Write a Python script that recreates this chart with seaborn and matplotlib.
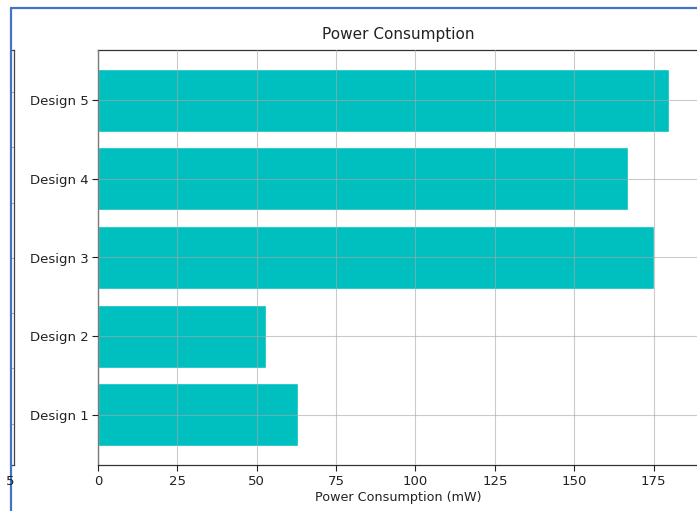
import matplotlib
matplotlib.use("Agg")
import matplotlib.pyplot as plt
import seaborn as sns
import pandas as pd
from matplotlib.lines import Line2D

# values
designs = ["Design 1", "Design 2", "Design 3", "Design 4", "Design 5"]
power_mw = [63, 53, 175, 167, 180]
x_ticks = [0, 25, 50, 75, 100, 125, 150, 175]

df = pd.DataFrame({"Design": designs, "Power": power_mw})

sns.set_style("ticks")
plt.rcParams["font.family"] = ["DejaVu Sans"]

W, H = 697, 511
fig = plt.figure(figsize=(W / 100, H / 100), dpi=100)

# main chart (the screenshot cuts it off on the right)
ax = fig.add_axes([98 / W, 46 / H, 600 / W, 415 / H])
sns.barplot(data=df, y="Design", x="Power", order=designs[::-1], orient="h",
            color="#00bfbf", saturation=1, width=0.8, ax=ax)
ax.set_xlim(0, 189)
ax.set_ylim(4.64, -0.64)
ax.set_xticks(x_ticks)
# grid sits on top of the bars, a bit see-through
ax.set_axisbelow(False)
ax.grid(True, color="#a8a8a8", linewidth=0.8, alpha=0.6)
ax.set_title("Power Consumption", fontsize=11, color="#222222", pad=8)
ax.set_xlabel("Power Consumption (mW)", fontsize=9.2, color="#222222", labelpad=2)
ax.set_ylabel("")
ax.tick_params(labelsize=9.5, colors="#222222", length=4, pad=3)
for s in ax.spines.values():
    s.set_color("#333333")
    s.set_linewidth(0.9)
    s.set_visible(True)

# sliver of the neighbouring panel on the left
ax2 = fig.add_axes([11 / W, 46 / H, 3 / W, 415 / H])
ax2.set_xlim(0, 1)
ax2.set_ylim(0, 1)
ax2.set_yticks([0.099, 0.234, 0.366, 0.499, 0.631, 0.766, 0.899])
ax2.set_yticklabels([])
ax2.tick_params(axis="y", length=0)
ax2.set_xticks([])
ax2.grid(True, axis="y", color="#b0b0b0", linewidth=0.8)
ax2.spines["left"].set_visible(False)
for s in ["right", "top", "bottom"]:
    ax2.spines[s].set_color("#444444")
    ax2.spines[s].set_linewidth(0.9)
fig.text(10 / W, 1 - 481 / H, "5", fontsize=9.5, color="#222222",
         ha="center", va="center")

# blue screenshot frame
fig.add_artist(Line2D([11 / W, 11 / W], [0, 1 - 8 / H], color="#4472c4",
                      linewidth=1.6, transform=fig.transFigure))
fig.add_artist(Line2D([11 / W, 1], [1 - 8 / H, 1 - 8 / H], color="#4472c4",
                      linewidth=1.6, transform=fig.transFigure))

fig.savefig("out.png", dpi=100)
